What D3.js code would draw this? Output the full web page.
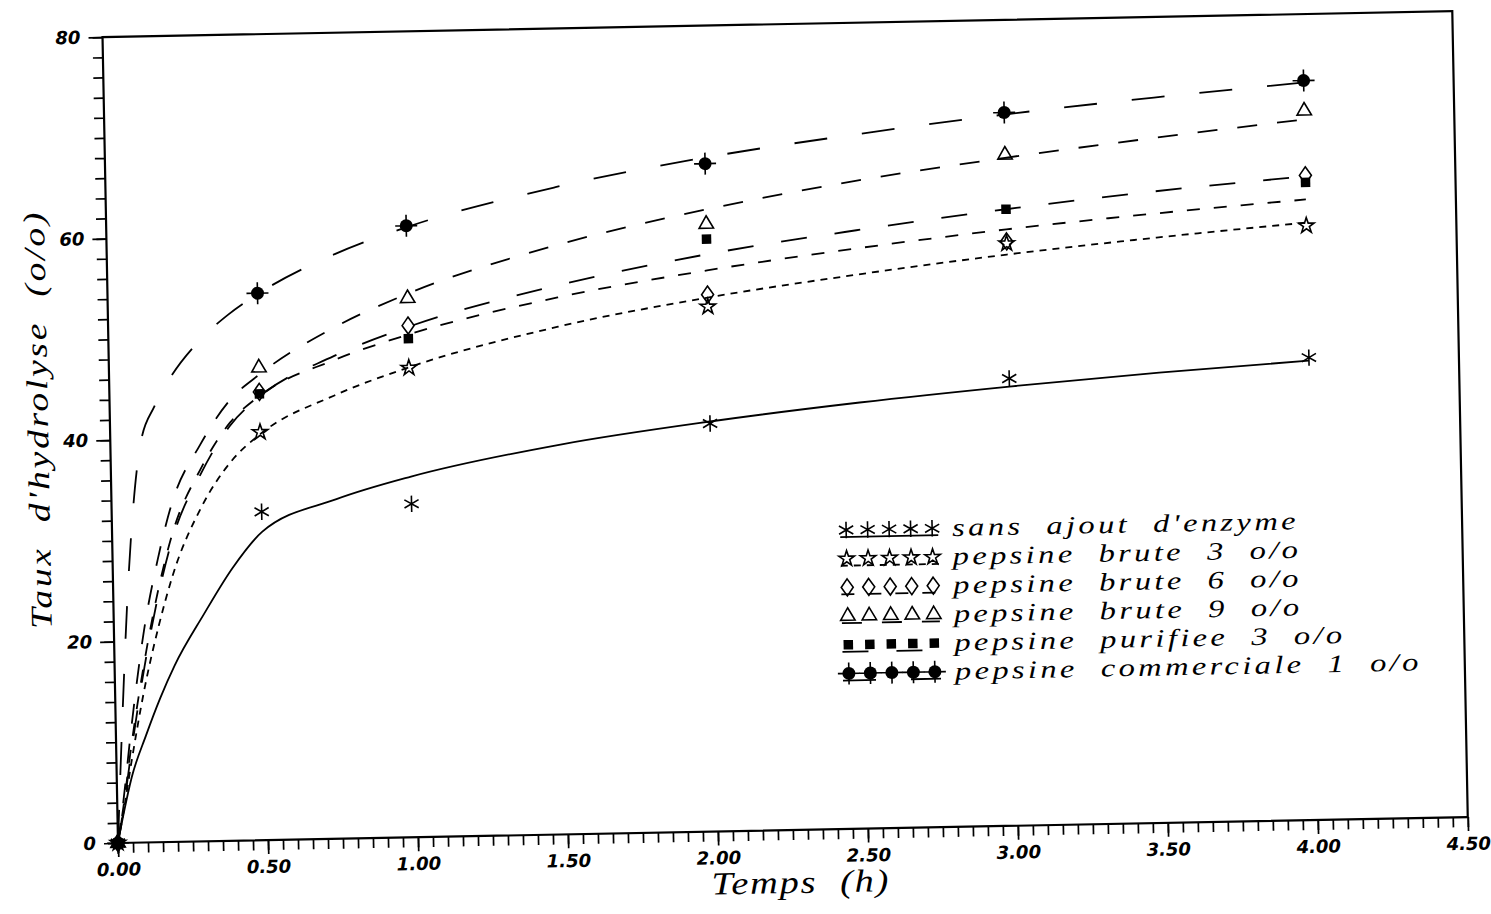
<!DOCTYPE html>
<html><head><meta charset="utf-8">
<script src="https://cdn.jsdelivr.net/npm/d3@7"></script>
<style>
body{margin:0;background:#fff;}
svg{display:block;}
</style>
</head><body>
<svg id="chart" width="1491" height="914"></svg>
<script>
// ---------- data ----------
const timePoints = [0, 0.5, 1, 2, 3, 4];
const sansAjout   = [0, 32.6, 33.1, 40.5, 44.4, 45.9];
const bruteTrois  = [0, 40.5, 46.6, 52.1, 57.8, 59.0];
const bruteSix    = [0, 44.5, 50.8, 53.3, 58.0, 64.0];
const bruteNeuf   = [0, 46.9, 53.5, 60.3, 66.6, 70.4];
const purifiee    = [0, 44.3, 49.5, 58.8, 61.2, 63.3];
const commerciale = [0, 54.3, 60.7, 66.3, 70.8, 73.4];

// fitted curves as drawn on the chart
const fitTime        = [0, 0.02, 0.05, 0.1, 0.15, 0.2, 0.3, 0.4, 0.5, 0.75, 1, 1.5, 2, 2.5, 3, 3.5, 4];
const fitSans        = [0, 2.8, 6.5, 10.6, 14.3, 17.5, 22.5, 27.1, 30.6, 33.7, 35.8, 38.7, 40.7, 42.3, 43.6, 44.7, 45.6];
const fitBruteTrois  = [0, 3.0, 8.0, 15.5, 21.5, 26.5, 33.2, 37.6, 40.3, 44.0, 46.65, 50.4, 53.0, 55.0, 56.7, 58.1, 59.3];
const fitBruteSix    = [0, 3.5, 9.5, 18.0, 25.0, 30.5, 37.0, 41.5, 44.1, 47.5, 49.9, 53.3, 55.7, 57.6, 59.2, 60.5, 61.6];
const fitBruteNeuf   = [0, 4.0, 11.0, 21.0, 28.0, 33.5, 39.4, 43.7, 46.2, 50.7, 53.95, 58.5, 61.75, 64.3, 66.3, 68.0, 69.55];
const fitPurifiee    = [0, 3.3, 9.0, 17.5, 24.5, 30.0, 36.5, 41.2, 44.0, 47.9, 50.66, 54.5, 57.3, 59.4, 61.2, 62.7, 63.9];
const fitCommerciale = [0, 11.0, 25.5, 39.5, 43.3, 45.9, 49.6, 52.2, 54.2, 57.9, 60.55, 64.25, 66.9, 68.9, 70.6, 72.0, 73.2];

const legendLabels = [
  "sans  ajout  d'enzyme",
  "pepsine  brute  3  o/o",
  "pepsine  brute  6  o/o",
  "pepsine  brute  9  o/o",
  "pepsine  purifiee  3  o/o",
  "pepsine  commerciale  1  o/o"
];
const xTickValues = [0, 0.5, 1, 1.5, 2, 2.5, 3, 3.5, 4, 4.5];
const yTickValues = [0, 20, 40, 60, 80];
const xTitle = "Temps  (h)";
const yTitle = "Taux  d'hydrolyse  (o/o)";

// ---------- layout ----------
const ox = 118, oy = 843, plotW = 1350, plotH = 806;
const tilt = -1.1; // the scanned page is slightly rotated

const x = d3.scaleLinear().domain([0, 4.5]).range([ox, ox + plotW]);
const y = d3.scaleLinear().domain([0, 80]).range([oy, oy - plotH]);

const svg = d3.select("#chart");
svg.append("rect").attr("width", 1491).attr("height", 914).attr("fill", "#fff");
const g = svg.append("g").attr("transform", `rotate(${tilt},${ox},${oy})`);

const tickFont = "'DejaVu Sans', sans-serif";
const textFont = "'Liberation Serif', 'Times New Roman', serif";

// frame
g.append("rect")
  .attr("x", ox).attr("y", oy - plotH).attr("width", plotW).attr("height", plotH)
  .attr("fill", "none").attr("stroke", "#000").attr("stroke-width", 2.2);

// axes
function styleAxis(sel) {
  sel.select(".domain").remove();
  sel.selectAll(".tick line").attr("stroke", "#000").attr("stroke-width", 1.7);
  sel.selectAll("text")
    .attr("font-family", tickFont).attr("font-weight", "bold").attr("font-style", "italic")
    .attr("font-size", 18).attr("fill", "#000");
}
g.append("g").attr("transform", `translate(0,${oy})`)
  .call(d3.axisBottom(x).tickValues(x.ticks(90)).tickSize(10).tickSizeOuter(0).tickFormat(""))
  .call(styleAxis);
g.append("g").attr("transform", `translate(0,${oy})`)
  .call(d3.axisBottom(x).tickValues(xTickValues).tickSize(14).tickSizeOuter(0).tickPadding(6).tickFormat(d3.format(".2f")))
  .call(styleAxis);
g.append("g").attr("transform", `translate(${ox},0)`)
  .call(d3.axisLeft(y).tickValues(y.ticks(40)).tickSize(10).tickSizeOuter(0).tickFormat(""))
  .call(styleAxis);
g.append("g").attr("transform", `translate(${ox},0)`)
  .call(d3.axisLeft(y).tickValues(yTickValues).tickSize(14).tickSizeOuter(0).tickPadding(8).tickFormat(d3.format("d")))
  .call(styleAxis);

// titles (glyphs widened to resemble the wide italic face of the original)
g.append("text").attr("transform", "translate(800,906) scale(1.2,1)").attr("text-anchor", "middle")
  .attr("font-family", textFont).attr("font-style", "italic").attr("font-size", 32)
  .attr("letter-spacing", 1.5).style("white-space", "pre").text(xTitle);
g.append("text").attr("transform", "translate(56,418) rotate(-90) scale(1.25,1)").attr("text-anchor", "middle")
  .attr("font-family", textFont).attr("font-style", "italic").attr("font-size", 30)
  .attr("letter-spacing", 2.2).style("white-space", "pre").text(yTitle);

// ---------- markers ----------
function drawMarker(sel, kind) {
  const sw = 1.6;
  if (kind === "asterisk") {
    sel.append("path").attr("d", d3.symbol(d3.symbolAsterisk, 190)())
      .attr("fill", "none").attr("stroke", "#000").attr("stroke-width", sw);
  } else if (kind === "star") {
    sel.append("path").attr("d", d3.symbol(d3.symbolStar, 75)())
      .attr("fill", "none").attr("stroke", "#000").attr("stroke-width", sw);
  } else if (kind === "diamond") {
    sel.append("path").attr("d", "M0,-8.5L6,0L0,8.5L-6,0Z")
      .attr("fill", "none").attr("stroke", "#000").attr("stroke-width", sw);
  } else if (kind === "triangle") {
    sel.append("path").attr("d", d3.symbol(d3.symbolTriangle, 90)())
      .attr("fill", "none").attr("stroke", "#000").attr("stroke-width", sw);
  } else if (kind === "square") {
    sel.append("path").attr("d", d3.symbol(d3.symbolSquare, 90)()).attr("fill", "#000");
  } else if (kind === "circleCross") {
    sel.append("circle").attr("r", 6.5).attr("fill", "#000");
    sel.append("path").attr("d", "M-11,0H11M0,-11V11")
      .attr("stroke", "#000").attr("stroke-width", 1.6);
  }
}

const series = [
  {label: legendLabels[0], values: sansAjout,   fit: fitSans,        marker: "asterisk",    dash: null},
  {label: legendLabels[1], values: bruteTrois,  fit: fitBruteTrois,  marker: "star",        dash: "7,6"},
  {label: legendLabels[2], values: bruteSix,    fit: fitBruteSix,    marker: "diamond",     dash: "13,14"},
  {label: legendLabels[3], values: bruteNeuf,   fit: fitBruteNeuf,   marker: "triangle",    dash: "20,20"},
  {label: legendLabels[4], values: purifiee,    fit: fitPurifiee,    marker: "square",      dash: "26,28"},
  {label: legendLabels[5], values: commerciale, fit: fitCommerciale, marker: "circleCross", dash: "33,35"}
];

const line = d3.line()
  .x((d, i) => x(fitTime[i]))
  .y(d => y(d))
  .curve(d3.curveMonotoneX);

series.forEach(s => {
  g.append("path").attr("d", line(s.fit))
    .attr("fill", "none").attr("stroke", "#000").attr("stroke-width", 1.8)
    .attr("stroke-dasharray", s.dash);
  s.values.forEach((v, i) => {
    const m = g.append("g").attr("transform", `translate(${x(timePoints[i])},${y(v)})`);
    drawMarker(m, s.marker);
  });
});

// ---------- legend ----------
const legX0 = 852, legDX = 21.5, legTextX = 958, legY0 = 544, legDY = 28.7;
series.forEach((s, r) => {
  const yy = legY0 + r * legDY;
  g.append("line").attr("x1", legX0 - 6).attr("x2", legX0 + 4 * legDX + 6)
    .attr("y1", yy + 7).attr("y2", yy + 7)
    .attr("stroke", "#000").attr("stroke-width", 1.8).attr("stroke-dasharray", s.dash);
  for (let k = 0; k < 5; k++) {
    const m = g.append("g").attr("transform", `translate(${legX0 + k * legDX},${yy})`);
    drawMarker(m, s.marker);
  }
  g.append("text").attr("transform", `translate(${legTextX},${yy + 8}) scale(1.3,1)`)
    .attr("font-family", textFont).attr("font-style", "italic").attr("font-size", 25)
    .attr("letter-spacing", 2.6).style("white-space", "pre").text(s.label);
});
</script>
</body></html>
